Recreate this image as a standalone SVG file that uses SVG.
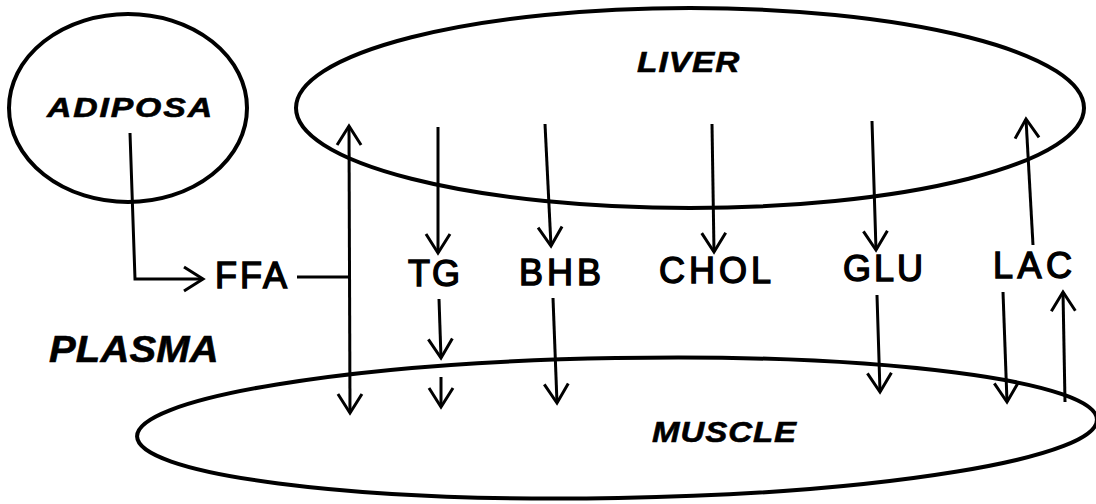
<svg xmlns="http://www.w3.org/2000/svg" width="1096" height="504" viewBox="0 0 1096 504">
<style>
.organ{fill:none;stroke:#000;stroke-width:4}
.it{font-family:"Liberation Sans",Arial,sans-serif;font-weight:bold;font-style:italic;fill:#000;stroke:#000;stroke-width:0.6}
.lab{font-family:"Liberation Sans",Arial,sans-serif;font-size:36px;fill:#000;stroke:#000;stroke-width:1.4}
.ln{fill:none;stroke:#000;stroke-width:3}
.arr{fill:none;stroke:#000;stroke-width:3;marker-end:url(#ah)}
</style>
<defs>
<marker id="ah" markerUnits="userSpaceOnUse" markerWidth="40" markerHeight="40" refX="0" refY="0" orient="auto-start-reverse" overflow="visible">
<path d="M-19,-12 L0,0 L-19,12" fill="none" stroke="#000" stroke-width="3"/>
</marker>
</defs>
<rect width="1096" height="504" fill="#fff"/>
<g id="adiposa">
<ellipse class="organ" cx="128" cy="108" rx="119" ry="94"/>
<text class="it" transform="translate(47 117) scale(1.25 1)" font-size="27" textLength="132" lengthAdjust="spacing">ADIPOSA</text>
</g>
<g id="liver">
<ellipse class="organ" cx="690" cy="108" rx="394" ry="100"/>
<text class="it" transform="translate(637 72) scale(1.15 1)" font-size="29" textLength="89" lengthAdjust="spacing">LIVER</text>
</g>
<g id="muscle">
<ellipse class="organ" cx="617" cy="428" rx="480" ry="70" transform="rotate(-1 617 428)"/>
<text class="it" transform="translate(652 442) scale(1.1 1)" font-size="30" textLength="131" lengthAdjust="spacing">MUSCLE</text>
</g>
<g id="plasma">
<text class="it" transform="translate(49 362) scale(1.08 1)" font-size="37" textLength="157" lengthAdjust="spacing">PLASMA</text>
</g>
<g id="ffa"><text class="lab" x="215" y="288" textLength="72" lengthAdjust="spacing">FFA</text></g>
<g id="tg"><text class="lab" x="408" y="286" textLength="52" lengthAdjust="spacing">TG</text></g>
<g id="bhb"><text class="lab" x="519" y="285" textLength="82" lengthAdjust="spacing">BHB</text></g>
<g id="chol"><text class="lab" x="659" y="283" textLength="112" lengthAdjust="spacing">CHOL</text></g>
<g id="glu"><text class="lab" x="843" y="281" textLength="80" lengthAdjust="spacing">GLU</text></g>
<g id="lac"><text class="lab" x="993" y="278" textLength="79" lengthAdjust="spacing">LAC</text></g>
<g id="connectors">
<path class="arr" d="M130,133 L135,279 L203,279"/>
<path class="ln" d="M297,277 L349,277"/>
<path class="arr" style="marker-start:url(#ah)" d="M349,126 L350,413"/>
<path class="arr" d="M438,127 L438,253"/>
<path class="arr" d="M439,299 L441,358"/>
<path class="arr" d="M441,377 L441,407"/>
<path class="arr" d="M545,124 L551,246"/>
<path class="arr" d="M553,298 L557,403"/>
<path class="arr" d="M712,124 L714,252"/>
<path class="arr" d="M872,121 L876,250"/>
<path class="arr" d="M877,295 L880,392"/>
<path class="arr" d="M1033,245 L1026,119"/>
<path class="arr" d="M1003,292 L1007,402"/>
<path class="arr" d="M1065,402 L1063,292"/>
</g>
</svg>
